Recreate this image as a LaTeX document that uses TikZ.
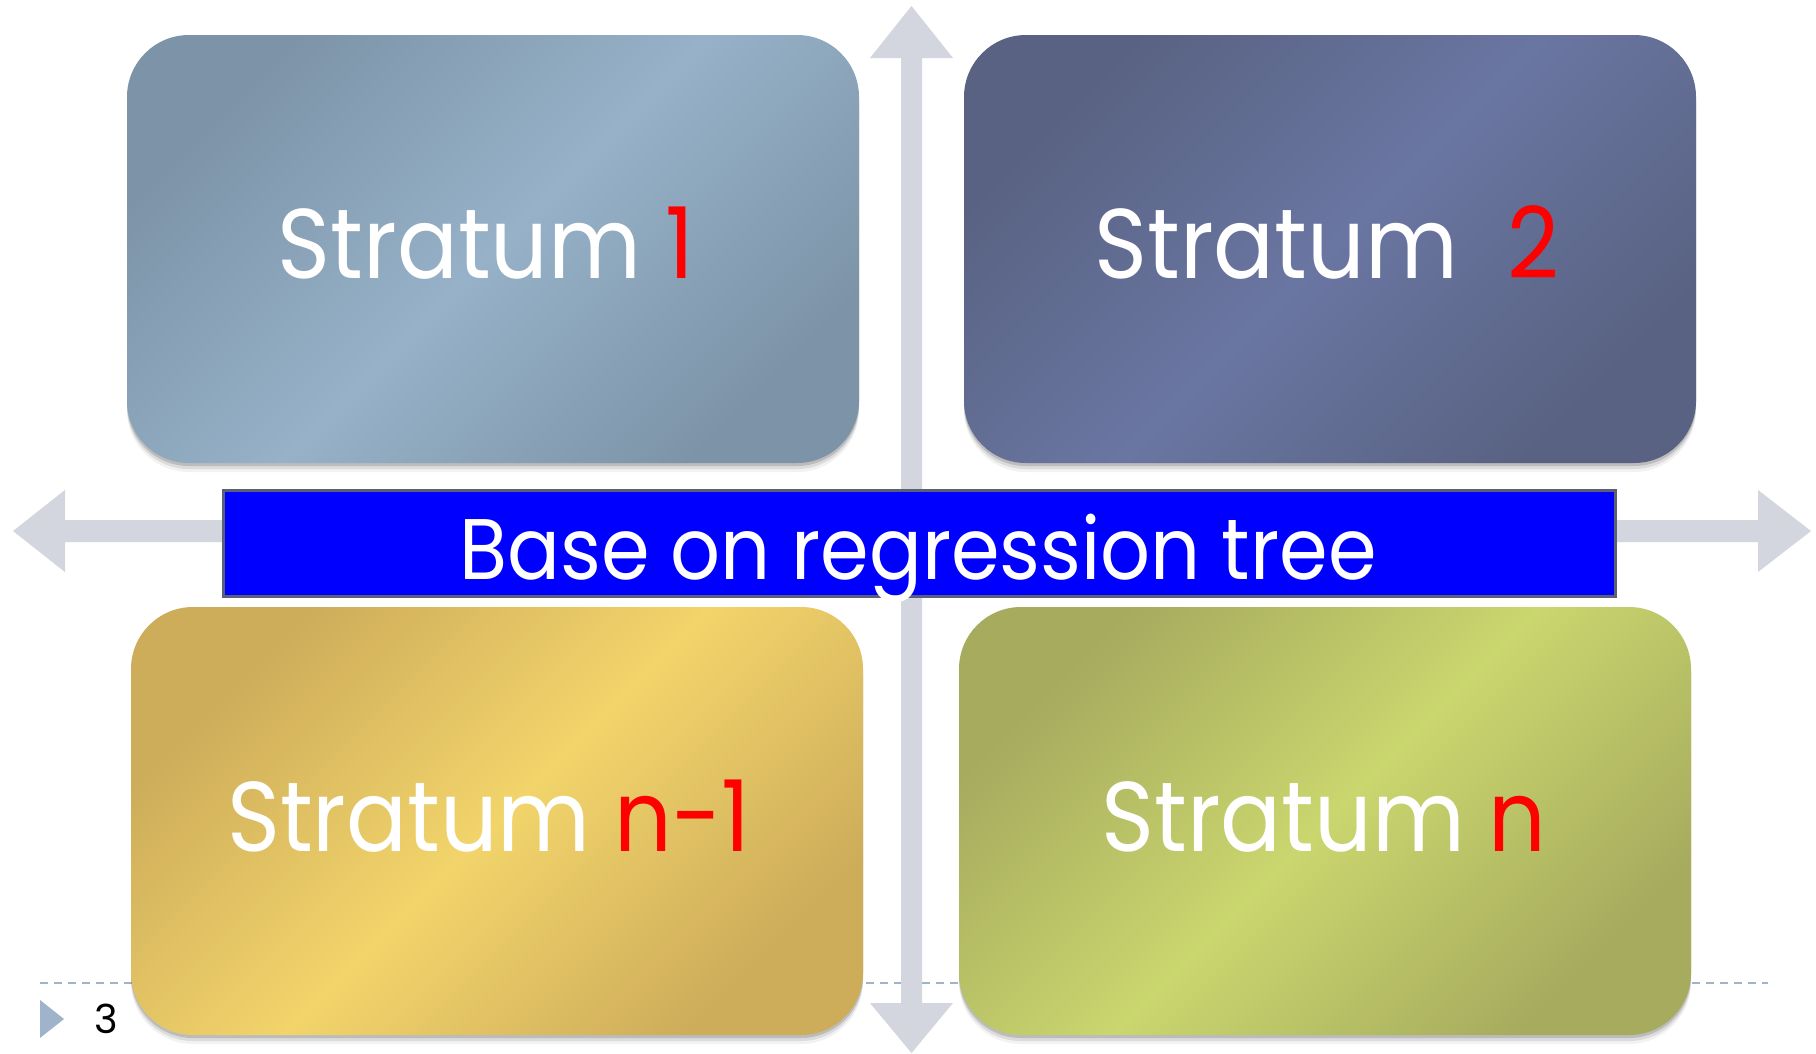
\documentclass[tikz,border=0pt]{standalone}
\usepackage{fontspec}
\newfontfamily\pop{Poppins}[FakeStretch=0.91]
\newfontfamily\popw{Poppins}
\usetikzlibrary{shadows}
\definecolor{axisgray}{HTML}{D3D6DF}
\definecolor{dashblue}{HTML}{9FB3CB}
\definecolor{barborder}{HTML}{5B5F78}
\definecolor{tlA}{HTML}{7D94A8}\definecolor{tlB}{HTML}{96B1C8}
\definecolor{trA}{HTML}{596282}\definecolor{trB}{HTML}{6A76A2}
\definecolor{blA}{HTML}{CDAC5A}\definecolor{blB}{HTML}{F2D46B}
\definecolor{brA}{HTML}{A6AB5E}\definecolor{brB}{HTML}{CAD66E}
\tikzset{
  stratum/.style={rounded corners=62pt, minimum width=732pt, minimum height=428pt,
    inner sep=0pt,
    drop shadow={shadow xshift=0pt, shadow yshift=-3pt, opacity=0.14, fill=black},
    drop shadow={shadow xshift=0pt, shadow yshift=-6pt, opacity=0.09, fill=black},
    drop shadow={shadow xshift=0pt, shadow yshift=-9pt, opacity=0.05, fill=black}},
  grad/.style 2 args={left color=#1, right color=#1, middle color=#2, shading angle=45},
  label text/.style={inner sep=0pt, text=white, anchor=base, font=\pop\fontsize{99}{110}\selectfont},
}
\begin{document}
\begin{tikzpicture}[x=1pt,y=-1pt]
\useasboundingbox[fill=white] (0,0) rectangle (1816,1053);
% dashed footer line
\coordinate (dl) at (40,983);
\coordinate (dr) at (1768,983);
\draw[dashblue, line width=2pt, dash pattern=on 8pt off 6pt] (dl) -- (dr);
% axes
\fill[axisgray] (13,531) -- (65,490) -- (65,520) -- (1758,520) -- (1758,490) -- (1811,531)
  -- (1758,572) -- (1758,542) -- (65,542) -- (65,572) -- cycle;
\fill[axisgray] (911.5,6) -- (953,58) -- (922,58) -- (922,1003) -- (953,1003) -- (911.5,1053)
  -- (870,1003) -- (901,1003) -- (901,58) -- (870,58) -- cycle;
% boxes
\node[stratum, grad={tlA}{tlB}] (s1) at (493,249) {};
\node[label text] (t1) at (486,278) {Stratum \textcolor{red}{1}};
\node[stratum, grad={trA}{trB}] (s2) at (1330,249) {};
\node[label text] (t2) at (1327,278) {Stratum\hspace{26pt} \textcolor{red}{2}};
\node[stratum, grad={blA}{blB}] (s3) at (497,821) {};
\node[label text] (t3) at (489,851) {Stratum \textcolor{red}{n-1}};
\node[stratum, grad={brA}{brB}] (s4) at (1325,821) {};
\node[label text] (t4) at (1324,851) {Stratum \textcolor{red}{n}};
% bar
\node[fill=blue, draw=barborder, line width=3pt, minimum width=1392pt, minimum height=106pt,
  inner sep=0pt] (bar) at (919,543) {};
\node[label text, font=\pop\fontsize{86}{100}\selectfont] (bt) at (918,579) {Base on regression tree};
% page marker
\fill[dashblue] (40,1000) -- (64,1019) -- (40,1038) -- cycle;
\node[font=\popw\fontsize{40}{48}\selectfont, inner sep=0pt, anchor=base]
  (pg) at (106,1033) {3};
\end{tikzpicture}
\end{document}
